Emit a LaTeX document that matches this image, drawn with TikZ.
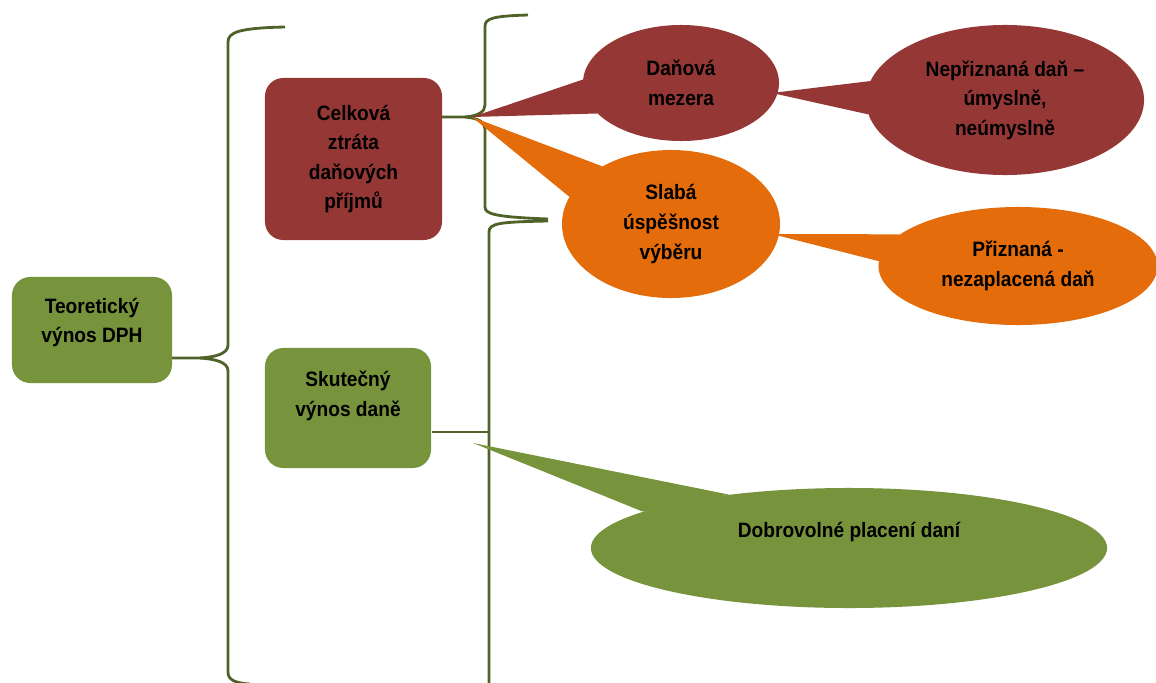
\documentclass[tikz,border=0pt]{standalone}
\usepackage{fontspec}
\setmainfont[FakeStretch=0.92]{Liberation Sans}
\usetikzlibrary{shapes.geometric,backgrounds}
\definecolor{vinova}{HTML}{953735}
\definecolor{oranzova}{HTML}{E46C0A}
\definecolor{zelena}{HTML}{77933C}
\definecolor{tmavozelena}{HTML}{4F6228}

\begin{document}
\begin{tikzpicture}[x=0.025cm, y=-0.025cm,
    font=\fontsize{14.8}{21}\selectfont\bfseries,
    box/.style={rounded corners=13pt, align=center, inner sep=0pt},
    bublina/.style={ellipse, align=center, inner sep=0pt},
    zavorka/.style={tmavozelena, line width=2pt}]
    \useasboundingbox (0,0) rectangle (1156,683);

    % Obdelniky
    \node[box, fill=zelena, minimum width=4cm, minimum height=2.65cm, text depth=14pt] (teo) at (92,330) {Teoretický\\výnos DPH};
    \node[box, fill=vinova, minimum width=4.425cm, minimum height=4.05cm] (ztrata) at (353.5,159) {Celková\\ztráta\\daňových\\příjmů};
    \node[box, fill=zelena, minimum width=4.15cm, minimum height=3cm, text depth=20pt] (skut) at (348,408) {Skutečný\\výnos daně};

    % Bubliny
    \node[bublina, fill=vinova, minimum width=4.9cm, minimum height=2.9cm] (mezera) at (681,83) {Daňová\\mezera};
    \node[bublina, fill=vinova, minimum width=6.95cm, minimum height=3.75cm] (nepriz) at (1005,100) {Nepřiznaná daň –\\úmyslně,\\neúmyslně};
    \node[bublina, fill=oranzova, minimum width=5.45cm, minimum height=3.7cm] (slaba) at (671,224) {Slabá\\úspěšnost\\výběru};
    \node[bublina, fill=oranzova, minimum width=6.975cm, minimum height=2.95cm] (priz) at (1018,266) {Přiznaná -\\nezaplacená daň};
    \node[bublina, fill=zelena, minimum width=12.9cm, minimum height=3cm, text depth=26pt] (dobro) at (849,548) {Dobrovolné placení daní};

    % Hroty
    \coordinate (teotip) at (172,358);
    \coordinate (celtip) at (442,117);
    \coordinate (skuttip) at (432,432);
    \coordinate (hrot) at (472,117);
    \coordinate (hrotN) at (772,93);
    \coordinate (hrotP) at (772,234);
    \coordinate (hrotD) at (473,443);

    \begin{pgfonlayer}{background}
        % Zavorky
        \draw[zavorka] (285,27) .. controls (240,28) and (228,32) .. (228,42) -- (228,345)
            .. controls (228,354) and (215,357) .. (200,358) -- (teotip);
        \draw[zavorka] (200,358) .. controls (215,359) and (228,362) .. (228,371) -- (228,672)
            .. controls (228,680) and (235,683) .. (250,684);
        \draw[zavorka] (528,15) .. controls (495,16) and (485,18) .. (485,26) -- (485,105)
            .. controls (485,112) and (478,116) .. (465,117) -- (celtip);
        \draw[zavorka] (465,117) .. controls (478,118) and (485,122) .. (485,129) -- (485,207)
            .. controls (485,214) and (495,217) .. (548,219);
        \draw[zavorka] (548,221) .. controls (500,222) and (489,223) .. (489,232) -- (489,690);
        \draw[zavorka] (skuttip) -- (489,432);

        % Ocasy bublin
        \fill[vinova] (hrot) -- (mezera.178) -- (mezera.200) -- cycle;
        \fill[oranzova] (hrot) -- (slaba.140) -- (slaba.165) -- cycle;
        \fill[vinova] (hrotN) -- (nepriz.172) -- (nepriz.186) -- cycle;
        \fill[oranzova] (hrotP) -- (priz.165) -- (priz.178) -- cycle;
        \fill[zelena] (hrotD) -- (dobro.156) -- (dobro.170) -- cycle;
    \end{pgfonlayer}
\end{tikzpicture}
\end{document}
